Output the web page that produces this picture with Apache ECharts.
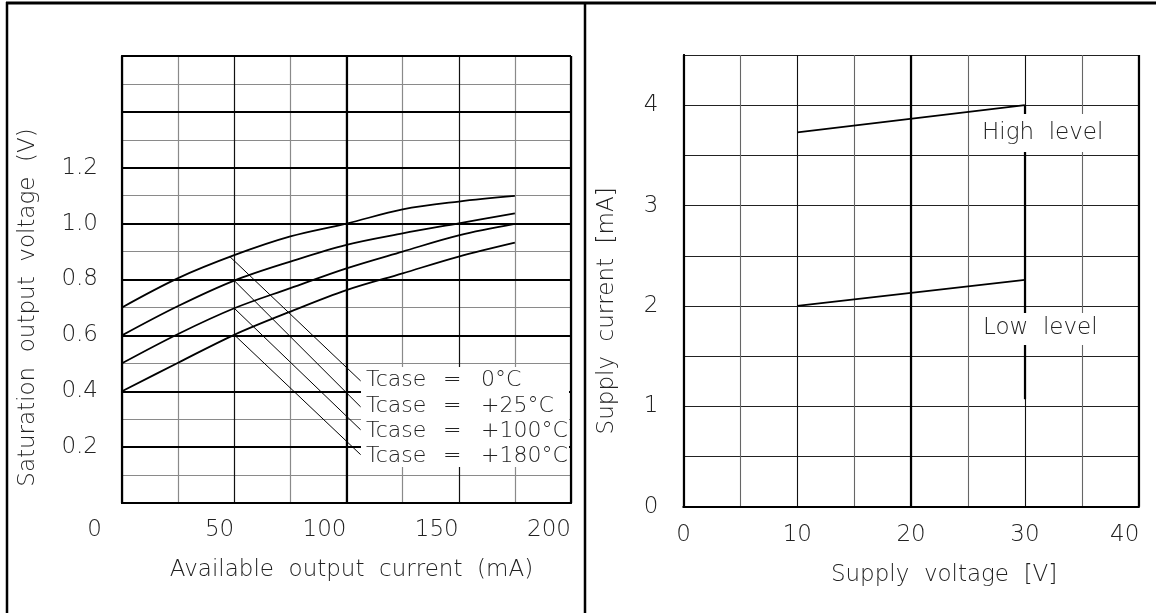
<!DOCTYPE html>
<html>
<head>
<meta charset="utf-8">
<script src="https://cdn.jsdelivr.net/npm/echarts@6/dist/echarts.min.js"></script>
<style>
html,body{margin:0;padding:0;background:#fff;}
#chart{width:1156px;height:613px;}
</style>
</head>
<body>
<div id="chart"></div>
<script>
// ---- Left chart data ----
const outputCurrent = [0, 25, 50, 75, 100, 125, 150, 175];
const vsat0C   = [0.70, 0.805, 0.887, 0.954, 1.000, 1.051, 1.079, 1.099];
const vsat25C  = [0.60, 0.705, 0.796, 0.864, 0.924, 0.965, 1.001, 1.037];
const vsat100C = [0.50, 0.605, 0.697, 0.769, 0.840, 0.900, 0.958, 0.999];
const vsat180C = [0.40, 0.502, 0.602, 0.685, 0.762, 0.822, 0.882, 0.932];
const tempLabels = ['0°C', '+25°C', '+100°C', '+180°C'];
const leaderStartX = [48, 50, 50, 50];
const leaderStartY = [0.882, 0.796, 0.697, 0.602];
const leaderEndX = [106.3, 106.3, 106.3, 106.3];
const leaderEndY = [0.437, 0.344, 0.262, 0.173];

// ---- Right chart data ----
const supplyVoltage = [10, 30];
const highLevel = [3.73, 4.0];
const lowLevel = [2.0, 2.26];
const drop30 = [4.0, 1.07];

const FONT = 'DejaVu Sans';
const TXT = '#222';
const FS = 23;
const FS_LEG = 22;

function zip(xs, ys) { return xs.map((x, i) => [x, ys[i]]); }

const chart = echarts.init(document.getElementById('chart'), null, {renderer: 'canvas'});

const curveStyle = {type: 'line', xAxisIndex: 0, yAxisIndex: 0, smooth: 0.35, symbol: 'none', z: 5,
  lineStyle: {color: '#000', width: 1.8}};
const curves = [vsat0C, vsat25C, vsat100C, vsat180C].map((v, i) => Object.assign({}, curveStyle,
  {name: 'Tcase = ' + tempLabels[i], data: zip(outputCurrent, v)}));
const leaders = tempLabels.map((t, i) => ({
  type: 'line', xAxisIndex: 0, yAxisIndex: 0, symbol: 'none', z: 5, silent: true,
  lineStyle: {color: '#000', width: 1},
  data: [[leaderStartX[i], leaderStartY[i]], [leaderEndX[i], leaderEndY[i]]]
}));

const baseText = {fontFamily: FONT, fontSize: FS, color: TXT, fontWeight: 200};

const legendRowsY = [380, 406.7, 431.7, 456.7];
const legendGraphics = [];
legendGraphics.push({type: 'rect', z: 50, shape: {x: 361, y: 367, width: 208, height: 100}, style: {fill: '#fff'}});
tempLabels.forEach((t, i) => {
  const y = legendRowsY[i];
  [['Tcase', 366], ['=', 443], [t, 481]].forEach(([s, x]) => {
    legendGraphics.push({type: 'text', z: 51, x: x, y: y,
      style: {text: s, fontFamily: FONT, fontSize: FS_LEG, fontWeight: 200, fill: TXT,
        align: 'left', verticalAlign: 'middle', textAlign: 'left', textVerticalAlign: 'middle'}});
  });
});

const option = {
  animation: false,
  backgroundColor: '#fff',
  grid: [
    {left: 122, top: 56, right: 585, bottom: 110, containLabel: false},
    {left: 683.5, top: 55, right: 17.3, bottom: 106.3, containLabel: false}
  ],
  xAxis: [
    {gridIndex: 0, type: 'value', position: 'bottom', min: 0, max: 200, interval: 25, z: 1,
      name: 'Available  output  current  (mA)', nameLocation: 'middle', nameGap: 56,
      nameTextStyle: Object.assign({}, baseText, {padding: [0, 0, 0, 10]}),
      axisLine: {show: true, lineStyle: {color: '#000', width: 2}}, axisTick: {show: false},
      axisLabel: Object.assign({}, baseText, {margin: 16, align: 'right',
        formatter: v => (v % 50 !== 0 ? '' : (v === 0 ? '{z|0}' : String(v))),
        rich: {z: Object.assign({}, baseText, {padding: [0, 20, 0, 0]})}}),
      splitLine: {show: true, lineStyle: {color: ['#111', '#8a8a8a'], width: 1.2}}},
    {gridIndex: 0, type: 'value', position: 'top', min: 0, max: 200, interval: 100, z: 2,
      axisLine: {show: true, lineStyle: {color: '#000', width: 2}}, axisTick: {show: false},
      axisLabel: {show: false}, splitLine: {show: true, lineStyle: {color: '#000', width: 2.2}}},
    {gridIndex: 1, type: 'value', position: 'bottom', min: 0, max: 40, interval: 5, z: 1,
      name: 'Supply  voltage  [V]', nameLocation: 'middle', nameGap: 57,
      nameTextStyle: Object.assign({}, baseText, {padding: [0, 0, 0, 66]}),
      axisLine: {show: true, lineStyle: {color: '#000', width: 2}}, axisTick: {show: false},
      axisLabel: Object.assign({}, baseText, {margin: 17, align: 'center',
        formatter: v => (v % 10 !== 0 ? '' : (v === 40 ? '{e|40}' : String(v))),
        rich: {e: Object.assign({}, baseText, {padding: [0, 28, 0, 0]})}}),
      splitLine: {show: true, lineStyle: {color: ['#111', '#666'], width: 1.1}}},
    {gridIndex: 1, type: 'value', position: 'top', min: 0, max: 40, interval: 20, z: 2,
      axisLine: {show: true, lineStyle: {color: '#000', width: 2}}, axisTick: {show: false},
      axisLabel: {show: false}, splitLine: {show: true, lineStyle: {color: '#000', width: 2.2}}}
  ],
  yAxis: [
    {gridIndex: 0, type: 'value', position: 'left', min: 0, max: 1.6, interval: 0.2, z: 2,
      name: 'Saturation  output  voltage  (V)', nameLocation: 'middle', nameGap: 82,
      nameTextStyle: Object.assign({}, baseText, {padding: [0, 56, 0, 0]}),
      axisLine: {show: true, lineStyle: {color: '#000', width: 2}}, axisTick: {show: false},
      axisLabel: Object.assign({}, baseText, {margin: 24, verticalAlign: 'middle', padding: [0, 0, 12, 0],
        formatter: v => (v > 0.15 && v < 1.25 ? v.toFixed(1) : '')}),
      splitLine: {show: true, lineStyle: {color: '#000', width: 2}}},
    {gridIndex: 0, type: 'value', position: 'right', min: 0, max: 1.6, interval: 0.1, z: 0,
      axisLine: {show: true, lineStyle: {color: '#000', width: 2}}, axisTick: {show: false},
      axisLabel: {show: false}, splitLine: {show: true, lineStyle: {color: '#8a8a8a', width: 1.2}}},
    {gridIndex: 1, type: 'value', position: 'left', min: 0, max: 4.5, interval: 0.5, z: 1,
      name: 'Supply  current  [mA]', nameLocation: 'middle', nameGap: 65,
      nameTextStyle: Object.assign({}, baseText, {padding: [0, 60, 0, 0]}),
      axisLine: {show: true, lineStyle: {color: '#000', width: 2}}, axisTick: {show: false},
      axisLabel: Object.assign({}, baseText, {margin: 25,
        formatter: v => (Math.abs(v - Math.round(v)) < 1e-6 ? String(Math.round(v)) : '')}),
      splitLine: {show: true, lineStyle: {color: '#222', width: 1.2}}},
    {gridIndex: 1, type: 'value', position: 'right', min: 0, max: 4.5, interval: 0.5, z: 0,
      axisLine: {show: true, lineStyle: {color: '#000', width: 2}}, axisTick: {show: false},
      axisLabel: {show: false}, splitLine: {show: false}}
  ],
  series: [
    ...curves,
    ...leaders,
    {type: 'line', name: 'High level', xAxisIndex: 2, yAxisIndex: 2, symbol: 'none', z: 5,
      lineStyle: {color: '#000', width: 1.8}, data: zip(supplyVoltage, highLevel),
      markLine: {silent: true, symbol: 'none', label: {show: false},
        lineStyle: {color: '#000', width: 2.2, type: 'solid'},
        data: [[{coord: [supplyVoltage[1], drop30[0]]}, {coord: [supplyVoltage[1], drop30[1]]}]]}},
    {type: 'line', name: 'Low level', xAxisIndex: 2, yAxisIndex: 2, symbol: 'none', z: 5,
      lineStyle: {color: '#000', width: 1.8}, data: zip(supplyVoltage, lowLevel)}
  ],
  graphic: [
    {type: 'line', z: 60, shape: {x1: 7, y1: 2, x2: 7, y2: 613}, style: {stroke: '#000', lineWidth: 2.5}},
    {type: 'line', z: 60, shape: {x1: 6, y1: 3, x2: 1156, y2: 3}, style: {stroke: '#000', lineWidth: 3}},
    {type: 'line', z: 60, shape: {x1: 585, y1: 2, x2: 585, y2: 613}, style: {stroke: '#000', lineWidth: 2.5}},
    ...legendGraphics,
    {type: 'rect', z: 50, shape: {x: 975, y: 114, width: 130, height: 38}, style: {fill: '#fff'}},
    {type: 'text', z: 51, x: 982, y: 133.3, style: {text: 'High  level', fontFamily: FONT, fontSize: FS, fontWeight: 200, fill: TXT,
      align: 'left', verticalAlign: 'middle', textAlign: 'left', textVerticalAlign: 'middle'}},
    {type: 'rect', z: 50, shape: {x: 975, y: 313, width: 130, height: 32}, style: {fill: '#fff'}},
    {type: 'text', z: 51, x: 983, y: 328.3, style: {text: 'Low  level', fontFamily: FONT, fontSize: FS, fontWeight: 200, fill: TXT,
      align: 'left', verticalAlign: 'middle', textAlign: 'left', textVerticalAlign: 'middle'}}
  ]
};
chart.setOption(option);
</script>
</body>
</html>
